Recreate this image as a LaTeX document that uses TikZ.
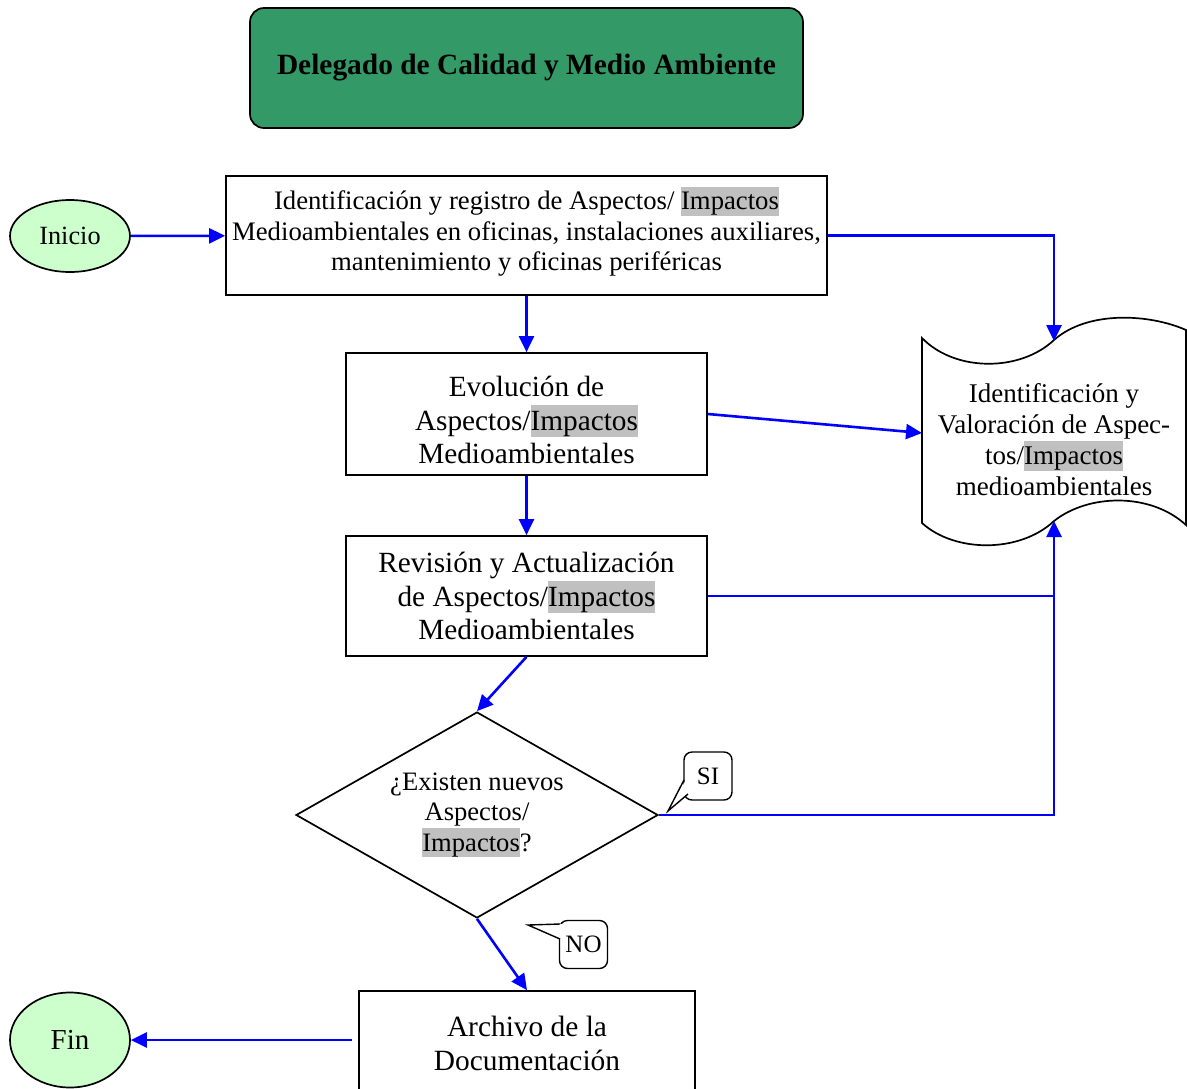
\documentclass[tikz,border=0pt]{standalone}
\usepackage{fontspec}
\setmainfont{Liberation Serif}
\usetikzlibrary{arrows.meta,shapes.geometric}
\definecolor{hdrgreen}{HTML}{339966}
\definecolor{lightgreen}{HTML}{CCFFCC}
\definecolor{hlgray}{HTML}{C0C0C0}
\newcommand\hlimp[1]{{\setlength{\fboxsep}{0pt}\colorbox{hlgray}{\rule[-0.23em]{0pt}{1.1em}#1}}}
\tikzset{
  box/.style={draw, line width=1.7pt, fill=white, align=center, inner sep=0pt},
  txt/.style={align=center, inner sep=0pt},
  term/.style={draw, line width=1.7pt, fill=lightgreen, align=center, inner sep=0pt},
  flow/.style={draw=blue, line width=2.6pt, -{Triangle[length=16pt,width=15pt]}},
  flowline/.style={draw=blue, line width=2.6pt},
  bubble/.style={draw, line width=1.4pt, fill=white, rounded corners=8pt, minimum width=48, minimum height=48, inner sep=0pt, font=\fontsize{25}{30}\selectfont},
}
\begin{document}
\begin{tikzpicture}[x=1pt,y=-1pt]
\useasboundingbox (0,0) rectangle (1187,1088);
\fill[white] (0,0) rectangle (1187,1088);

% header
\node[draw, line width=1.7pt, fill=hdrgreen, rounded corners=14pt, minimum width=553, minimum height=120, inner sep=0pt,
      font=\fontsize{29.4}{34}\selectfont\bfseries] (hdr) at (526.5,68) {Delegado de Calidad y Medio Ambiente};

% terminals
\node[term, ellipse, minimum width=120, minimum height=72, font=\fontsize{26.3}{30}\selectfont] (ini) at (70,236) {Inicio};
\node[term, ellipse, minimum width=120, minimum height=95, font=\fontsize{29}{34}\selectfont] (fin) at (70,1040) {Fin};

% process boxes
\node[box, minimum width=601, minimum height=119] (b1) at (526.5,235.5) {};
\node[txt, font=\fontsize{26.7}{30.5}\selectfont] (b1t) at ([yshift=4pt]b1.center)
  {Identificación y registro de Aspectos/ \hlimp{Impactos}\\Medioambientales en oficinas, instalaciones auxiliares,\\mantenimiento y oficinas periféricas};
\node[box, minimum width=361, minimum height=122] (b2) at (526.5,414) {};
\node[txt, font=\fontsize{29.3}{33.5}\selectfont] (b2t) at ([yshift=-6pt]b2.center)
  {Evolución de\\Aspectos/\hlimp{Impactos}\\Medioambientales};
\node[box, minimum width=361, minimum height=120, font=\fontsize{29.3}{33.5}\selectfont] (b3) at (526.5,596)
  {Revisión y Actualización\\de Aspectos/\hlimp{Impactos}\\Medioambientales};
\node[box, diamond, aspect=1.757, minimum width=362, minimum height=206, font=\fontsize{26.6}{30.5}\selectfont] (dia) at (477,815)
  {¿Existen nuevos\\Aspectos/\\\hlimp{Impactos}?};
\node[box, minimum width=336, minimum height=104, font=\fontsize{29.4}{34}\selectfont] (arch) at (527,1043)
  {Archivo de la\\Documentación};

% document (punched tape) shape
\filldraw[line width=1.7pt, fill=white]
  (922,338) .. controls (955,372) and (1020,372) .. (1054,340)
            .. controls (1088,310) and (1150,314) .. (1186,330)
  -- (1186,525)
  .. controls (1150,492) and (1088,494) .. (1054,521)
  .. controls (1020,553) and (955,553) .. (922,523) -- cycle;
\node[txt, font=\fontsize{27}{31}\selectfont] (doc) at (1054,440)
  {Identificación y\\Valoración de Aspec-\\tos/\hlimp{Impactos}\\medioambientales};
\coordinate (docT) at (1054,341);
\coordinate (docL) at (922,433);
\coordinate (docB) at (1054,521);
\coordinate (jn) at (1054,596);

% connectors
\draw[flow] (ini) -- (b1);
\draw[flow] (b1.east) -| (docT);
\draw[flow] (b1) -- (b2);
\draw[flow] (b2.east) -- (docL);
\draw[flow] (b2) -- (b3);
\draw[flow] (b3.east) -| (docB);
\draw[flow] (b3.south) -- (dia.north);
\draw[flowline] (dia.east) -| (jn);
\draw[flow] (dia.south) -- (arch.north);
\draw[flow] ([xshift=-6pt]arch.west |- fin) -- (fin);

% callouts
\node[bubble] (si) at (708,776) {SI};
\fill[white] (686,780) -- (668,811) -- (688,794) -- cycle;
\draw[line width=1.4pt, line join=miter] (684,780) -- (668,811) -- (688,794);
\node[bubble] (no) at (583.5,944.5) {NO};
\fill[white] (562,924) -- (528,925) -- (562,939) -- cycle;
\draw[line width=1.4pt] (560,924) -- (528,925) -- (560,939);
\end{tikzpicture}
\end{document}
